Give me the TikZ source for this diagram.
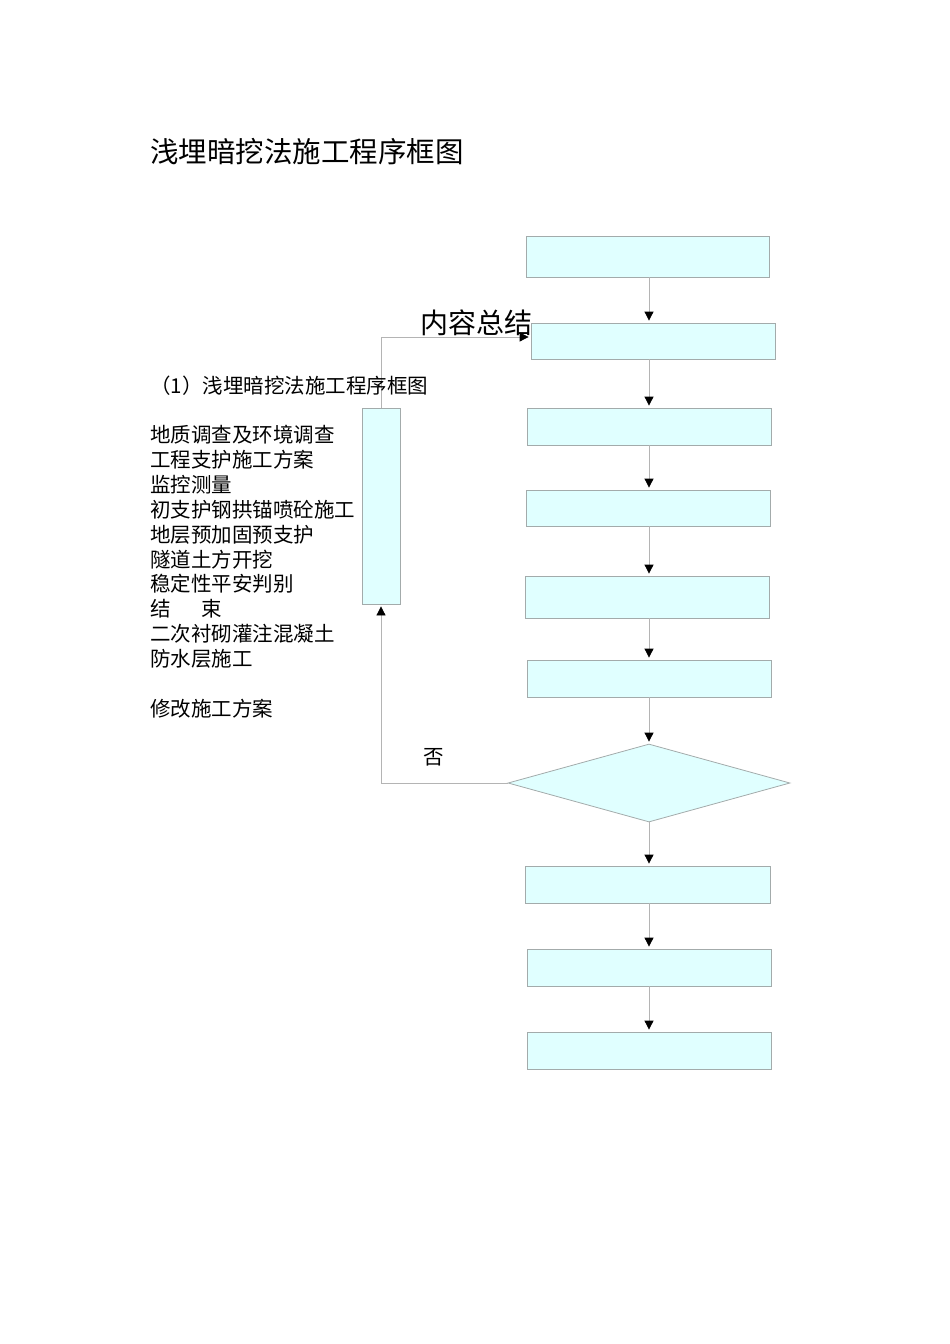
\documentclass[tikz,border=0pt]{standalone}
\usepackage{fontspec}
\setmainfont{Noto Sans CJK SC}
\usetikzlibrary{arrows.meta,shapes.geometric}
\definecolor{boxfill}{HTML}{E0FFFF}
\definecolor{boxline}{HTML}{A3ABAB}
\definecolor{conn}{HTML}{B4B4B4}
\tikzset{
  box/.style={draw=boxline,fill=boxfill,line width=0.8pt,inner sep=0pt},
  dec/.style={diamond,draw=boxline,fill=boxfill,line width=0.8pt,inner sep=0pt,aspect=3.6},
  arr/.style={draw=conn,line width=0.8pt,-{Triangle[length=9pt,width=9pt,color=black]},shorten >=2pt},
  lbl/.style={anchor=west,inner sep=0pt,font=\fontsize{20.5}{24}\selectfont},
}
\begin{document}
\begin{tikzpicture}[x=1pt,y=-1pt]
\useasboundingbox (0,0) rectangle (950,1344);
% title
\node[anchor=west,inner sep=0pt,font=\fontsize{28.5}{34}\selectfont] (title) at (150,152) {浅埋暗挖法施工程序框图};
% boxes
\node[box,minimum width=243pt,minimum height=41pt] (b1) at (647.5,256.5) {};
\node[box,minimum width=244pt,minimum height=36pt] (b2) at (653,341) {};
\node[box,minimum width=244pt,minimum height=37pt] (b3) at (649,426.5) {};
\node[box,minimum width=244pt,minimum height=36pt] (b4) at (648,508) {};
\node[box,minimum width=244pt,minimum height=42pt] (b5) at (647,597) {};
\node[box,minimum width=244pt,minimum height=37pt] (b6) at (649,678.5) {};
\node[dec,minimum width=282pt,minimum height=78pt] (d7) at (649,783) {};
\node[box,minimum width=245pt,minimum height=37pt] (b8) at (647.5,884.5) {};
\node[box,minimum width=244pt,minimum height=37pt] (b9) at (649,967.5) {};
\node[box,minimum width=244pt,minimum height=37pt] (b10) at (649,1050.5) {};
\node[box,minimum width=38pt,minimum height=196pt] (L) at (381,506) {};
% vertical connectors
\draw[arr] (b1.south -| d7) -- (b2.north -| d7);
\draw[arr] (b2.south -| d7) -- (b3.north -| d7);
\draw[arr] (b3.south -| d7) -- (b4.north -| d7);
\draw[arr] (b4.south -| d7) -- (b5.north -| d7);
\draw[arr] (b5.south -| d7) -- (b6.north -| d7);
\draw[arr] (b6.south -| d7) -- (d7.north);
\draw[arr] (d7.south) -- (b8.north -| d7);
\draw[arr] (b8.south -| d7) -- (b9.north -| d7);
\draw[arr] (b9.south -| d7) -- (b10.north -| d7);
% feedback loop
\draw[arr] (d7.west) -| (L.south);
\draw[arr] (L.north) |- ([yshift=4pt]b2.west);
% labels
\node[anchor=west,inner sep=0pt,font=\fontsize{28}{32}\selectfont] (sum) at (420,323) {内容总结};
\node[lbl] (sub) at (150,386) {（1）浅埋暗挖法施工程序框图};
\node[lbl] (t1) at (150,435) {地质调查及环境调查};
\node[lbl] (t2) at (150,460) {工程支护施工方案};
\node[lbl] (t3) at (150,485) {监控测量};
\node[lbl] (t4) at (150,510) {初支护钢拱锚喷砼施工};
\node[lbl] (t5) at (150,535) {地层预加固预支护};
\node[lbl] (t6) at (150,560) {隧道土方开挖};
\node[lbl] (t7) at (150,584) {稳定性平安判别};
\node[lbl] (t8) at (150,609) {结\hspace{31pt}束};
\node[lbl] (t9) at (150,634) {二次衬砌灌注混凝土};
\node[lbl] (t10) at (150,659) {防水层施工};
\node[lbl] (t11) at (150,709) {修改施工方案};
\node[lbl] (no) at (423,757) {否};
\end{tikzpicture}
\end{document}
